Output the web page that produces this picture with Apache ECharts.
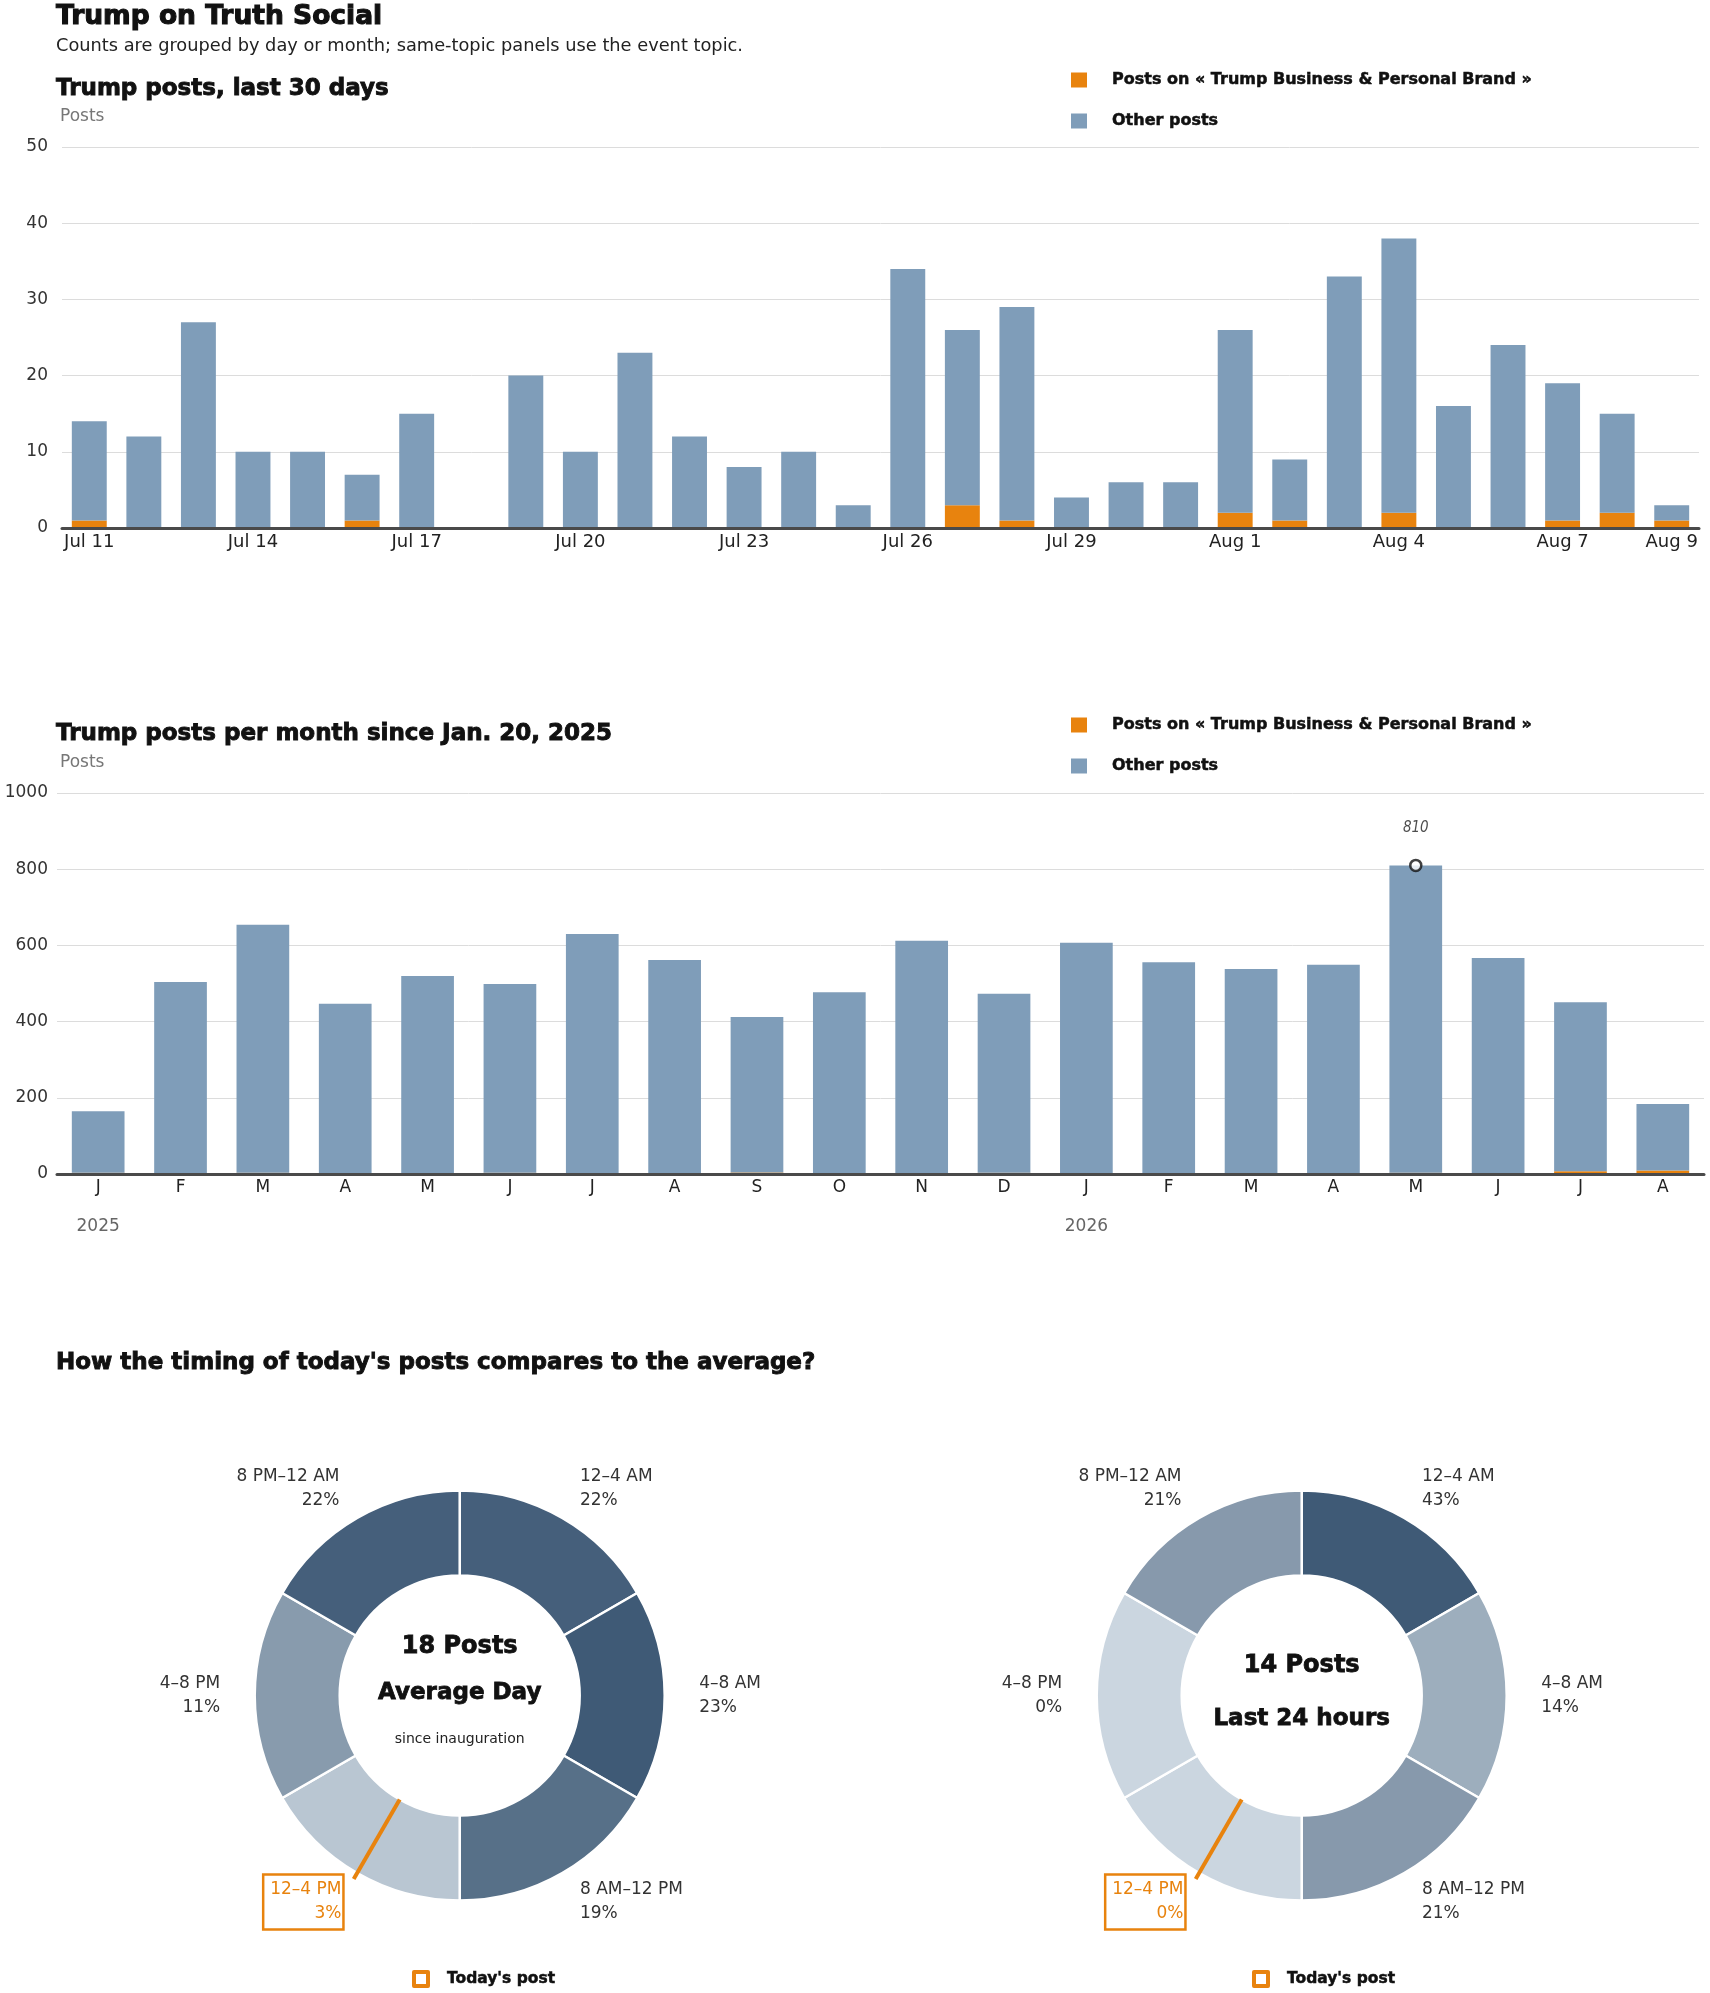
<!DOCTYPE html>
<html><head><meta charset="utf-8">
<script src="https://cdn.jsdelivr.net/npm/echarts@6/dist/echarts.min.js"></script>
<style>html,body{margin:0;padding:0;background:#fff}#c{width:1710px;height:1993px}</style>
</head><body><div id="c"></div>
<script>
// ---- data ----
const days = ['Jul 11','Jul 12','Jul 13','Jul 14','Jul 15','Jul 16','Jul 17','Jul 18','Jul 19','Jul 20',
  'Jul 21','Jul 22','Jul 23','Jul 24','Jul 25','Jul 26','Jul 27','Jul 28','Jul 29','Jul 30','Jul 31',
  'Aug 1','Aug 2','Aug 3','Aug 4','Aug 5','Aug 6','Aug 7','Aug 8','Aug 9'];
const dailyTotal = [14,12,27,10,10,7,15,0,20,10,23,12,8,10,3,34,26,29,4,6,6,26,9,33,38,16,24,19,15,3];
const dailyBrand = [1,0,0,0,0,1,0,0,0,0,0,0,0,0,0,0,3,1,0,0,0,2,1,0,2,0,0,1,2,1];
const months = ['J','F','M','A','M','J','J','A','S','O','N','D','J','F','M','A','M','J','J','A'];
const monthYears = {0:'2025', 12:'2026'};
const monthlyTotal = [165,504,654,447,520,499,630,562,412,477,612,473,607,556,538,549,810,567,451,184];
const monthlyBrand = [3,0,3,0,0,3,0,0,4,0,0,3,0,0,0,0,3,0,7,9];
const blocks = ['12–4 AM','4–8 AM','8 AM–12 PM','12–4 PM','4–8 PM','8 PM–12 AM'];
const blockHours = [4,4,4,4,4,4];
const avgShare = [22,23,19,3,11,22];
const todayShare = [43,14,21,0,0,21];
const avgPosts = 18;
const todayPosts = 14;
const todayPostBlock = '12–4 PM';
const brandName = 'Posts on « Trump Business & Personal Brand »';
const otherName = 'Other posts';

// ---- styles ----
const ORANGE = '#e8830e', BLUE = '#7f9db9';
const FONT = 'DejaVu Sans';
const INK = '#111';
const LIGHT = [203,214,224], DARK = [63,90,118];
function shade(v, max) {
  const t = max ? v / max : 0;
  return 'rgb(' + LIGHT.map((l, i) => Math.round(l + (DARK[i] - l) * t)).join(',') + ')';
}
function heavy(size, lh, stroke) {
  return { fontFamily: FONT, fontSize: size, fontWeight: 'bold', color: INK, lineHeight: lh,
    textBorderColor: INK, textBorderWidth: stroke };
}

function donutSeries(cx, shares) {
  const max = Math.max(...shares);
  const center = [cx, 1695.5];
  return [{
    type: 'pie', center: center, radius: [120, 205], startAngle: 90, clockwise: true,
    avoidLabelOverlap: false, silent: true, z: 2,
    itemStyle: { borderColor: '#fff', borderWidth: 2.5 },
    label: { show: true, position: 'outside', distanceToLabelLine: 1, fontSize: 17, lineHeight: 24,
      color: '#333', fontFamily: FONT, formatter: p => p.name + '\n' + p.data.share + '%' },
    labelLine: { show: false, length: 33.5, length2: 0 },
    data: blocks.map((b, i) => {
      const d = { name: b, value: blockHours[i], share: shares[i], itemStyle: { color: shade(shares[i], max) } };
      if (b === todayPostBlock) d.label = { color: ORANGE, borderColor: ORANGE, borderWidth: 2.5,
        padding: [3, 2, 4, 7], distanceToLabelLine: -3 };
      return d;
    })
  }, {
    type: 'pie', center: center, radius: [0, 120], startAngle: 90, clockwise: true,
    avoidLabelOverlap: false, silent: true, emphasis: { disabled: true }, z: 6,
    itemStyle: { color: 'rgba(0,0,0,0)', borderWidth: 0 },
    label: { show: false }, labelLine: { show: false },
    data: blocks.map((b, i) => (b === todayPostBlock ?
      { name: "Today's post", value: blockHours[i], label: { show: true, formatter: ' ' },
        labelLine: { show: true, length: 92, length2: 0, lineStyle: { color: ORANGE, width: 4 } } } :
      { name: b, value: blockHours[i] }))
  }];
}

const peakIdx = monthlyTotal.indexOf(Math.max(...monthlyTotal));

const barLegend = (top) => ({
  data: [brandName, otherName], orient: 'vertical', left: 1071, top: top, padding: 0,
  itemWidth: 16, itemHeight: 15, itemGap: 23, icon: 'rect', selectedMode: false,
  textStyle: Object.assign(heavy(16, 18, 0.5), { padding: [0, 0, 0, 20] })
});
const todayLegend = (left) => ({
  data: ["Today's post"], left: left, top: 1970, padding: 0, icon: 'rect', itemWidth: 14, itemHeight: 14,
  selectedMode: false,
  itemStyle: { color: 'rgba(0,0,0,0)', borderColor: ORANGE, borderWidth: 4 },
  textStyle: Object.assign(heavy(15.5, 18, 0.5), { padding: [0, 0, 0, 14] })
});

const yAxisCommon = {
  type: 'value', name: 'Posts', nameLocation: 'end', nameGap: 30,
  nameTextStyle: { align: 'left', verticalAlign: 'middle', color: '#777', fontSize: 17, fontFamily: FONT },
  axisLine: { show: false }, axisTick: { show: false },
  axisLabel: { fontSize: 17, color: '#333', fontFamily: FONT, formatter: v => String(v) },
  splitLine: { lineStyle: { color: '#dcdcdc', width: 1 } }
};

const chart = echarts.init(document.getElementById('c'), null, { renderer: 'canvas' });
chart.setOption({
  animation: false,
  textStyle: { fontFamily: FONT },
  title: [
    { text: 'Trump on Truth Social', left: 56, top: 2, padding: 0, textStyle: heavy(26.5, 30, 1.1) },
    { text: 'Counts are grouped by day or month; same-topic panels use the event topic.', left: 56, top: 36, padding: 0,
      textStyle: { fontFamily: FONT, fontSize: 17.8, fontWeight: 'normal', color: '#222', lineHeight: 20 } },
    { text: 'Trump posts, last 30 days', left: 56, top: 76, padding: 0, textStyle: heavy(23, 26, 0.9) },
    { text: 'Trump posts per month since Jan. 20, 2025', left: 56, top: 721, padding: 0, textStyle: heavy(23, 26, 0.9) },
    { text: "How the timing of today's posts compares to the average?", left: 56, top: 1350, padding: 0,
      textStyle: heavy(23, 26, 0.9) },
    { text: '{a|' + avgPosts + ' Posts}\n{b|Average Day}\n{c|since inauguration}', left: 459.7, top: 1624,
      textAlign: 'center', padding: 0,
      textStyle: { rich: {
        a: heavy(24, 46, 0.8),
        b: heavy(23, 46, 0.8),
        c: { fontFamily: FONT, fontSize: 14, fontWeight: 'normal', lineHeight: 46, color: '#222' } } } },
    { text: '{a|' + todayPosts + ' Posts}\n{b|Last 24 hours}', left: 1301.7, top: 1638.75,
      textAlign: 'center', padding: 0,
      textStyle: { rich: { a: heavy(24, 53.5, 0.8), b: heavy(23, 53.5, 0.8) } } }
  ],
  legend: [barLegend(71), barLegend(716), todayLegend(412), todayLegend(1252)],
  grid: [
    { left: 62, right: 11, top: 147, height: 381 },
    { left: 57, right: 6, top: 793, height: 381 }
  ],
  xAxis: [
    { gridIndex: 0, type: 'category', data: days, z: 3,
      axisLine: { lineStyle: { color: '#4a4a4a', width: 3 } }, axisTick: { show: false },
      axisLabel: { interval: (i) => i % 3 === 0 || i === days.length - 1, margin: 5, fontSize: 18,
        lineHeight: 18, color: '#222', fontFamily: FONT } },
    { gridIndex: 1, type: 'category', data: months, z: 3,
      axisLine: { lineStyle: { color: '#4a4a4a', width: 3 } }, axisTick: { show: false },
      axisLabel: { interval: 0, margin: 4, fontSize: 17, lineHeight: 20, color: '#222', fontFamily: FONT,
        formatter: (v, i) => monthYears[i] ? v + '\n{yr|' + monthYears[i] + '}' : v,
        rich: { yr: { fontSize: 17, lineHeight: 58, color: '#666', fontFamily: FONT } } } }
  ],
  yAxis: [
    Object.assign({}, yAxisCommon, { gridIndex: 0, min: 0, max: 50, interval: 10,
      nameTextStyle: Object.assign({}, yAxisCommon.nameTextStyle, { padding: [0, 0, 0, -2] }),
      axisLabel: Object.assign({}, yAxisCommon.axisLabel, { margin: 14 }) }),
    Object.assign({}, yAxisCommon, { gridIndex: 1, min: 0, max: 1000, interval: 200,
      nameTextStyle: Object.assign({}, yAxisCommon.nameTextStyle, { padding: [0, 0, 0, 3] }),
      axisLabel: Object.assign({}, yAxisCommon.axisLabel, { margin: 9 }) })
  ],
  series: [
    { name: brandName, type: 'bar', stack: 'd', xAxisIndex: 0, yAxisIndex: 0, barWidth: '64%',
      data: dailyBrand, itemStyle: { color: ORANGE }, silent: true },
    { name: otherName, type: 'bar', stack: 'd', xAxisIndex: 0, yAxisIndex: 0, barWidth: '64%',
      data: dailyTotal.map((t, i) => t - dailyBrand[i]), itemStyle: { color: BLUE }, silent: true },
    { name: brandName, type: 'bar', stack: 'm', xAxisIndex: 1, yAxisIndex: 1, barWidth: '64%',
      data: monthlyBrand, itemStyle: { color: ORANGE }, silent: true },
    { name: otherName, type: 'bar', stack: 'm', xAxisIndex: 1, yAxisIndex: 1, barWidth: '64%',
      data: monthlyTotal.map((t, i) => t - monthlyBrand[i]), itemStyle: { color: BLUE }, silent: true },
    { type: 'scatter', xAxisIndex: 1, yAxisIndex: 1, z: 5, silent: true,
      data: [[peakIdx, monthlyTotal[peakIdx]]], symbol: 'circle', symbolSize: 11,
      itemStyle: { color: '#fff', borderColor: '#111', borderWidth: 2.5 },
      label: { show: true, position: 'top', distance: 23, formatter: p => String(p.value[1]),
        fontStyle: 'italic', fontSize: 15, color: '#222',
        fontFamily: "'Liberation Sans Narrow', 'DejaVu Sans Condensed', 'DejaVu Sans'" } },
    ...donutSeries(459.7, avgShare),
    ...donutSeries(1301.7, todayShare)
  ]
});
</script>
</body></html>
